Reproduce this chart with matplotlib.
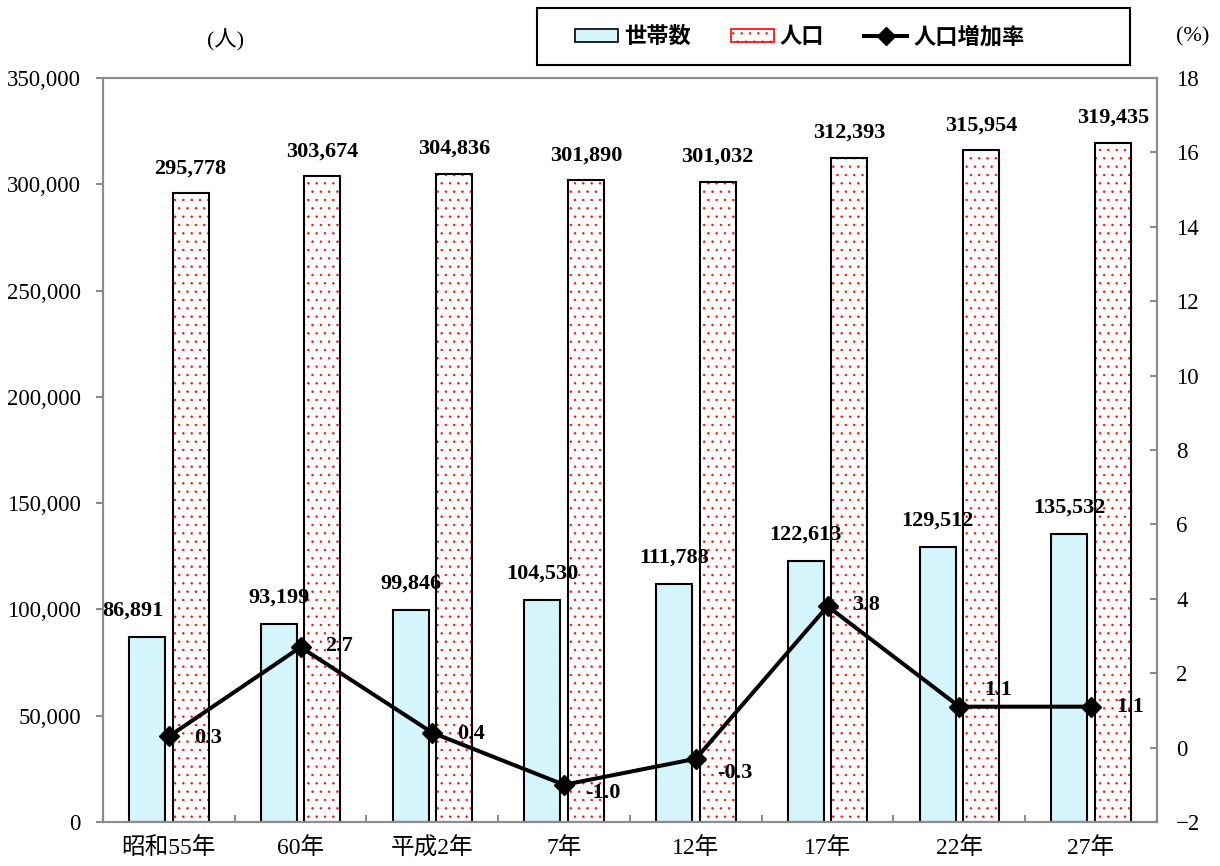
import numpy as np
import matplotlib.pyplot as plt
from matplotlib.patches import Patch, Rectangle
from matplotlib.lines import Line2D

plt.rcParams['font.family'] = ['Liberation Serif', 'Noto Sans CJK JP', 'DejaVu Sans']
plt.rcParams['hatch.linewidth'] = 0.45

years = ["昭和55年", "60年", "平成2年", "7年", "12年", "17年", "22年", "27年"]
households = [86891, 93199, 99846, 104530, 111788, 122613, 129512, 135532]
population = [295778, 303674, 304836, 301890, 301032, 312393, 315954, 319435]
growth = [0.3, 2.7, 0.4, -1.0, -0.3, 3.8, 1.1, 1.1]

gray = "#8c8c8c"
cyan = "#d4f5fb"

fig = plt.figure(figsize=(12.2, 8.66), dpi=100)
ax = fig.add_axes([0.0844, 0.0508, 0.8639, 0.8592])
ax2 = ax.twinx()

x = np.arange(len(years))
w = 0.273
off = 0.165

ax.bar(x - off, households, w, color=cyan, edgecolor="black", linewidth=1.5, zorder=2)
# dotted bars: red dots then black frame
ax.bar(x + off, population, w, color="white", edgecolor="red", hatch="..", linewidth=0, zorder=2)
ax.bar(x + off, population, w, fill=False, edgecolor="black", linewidth=1.5, zorder=3)

for i, (xi, v) in enumerate(zip(x, households)):
    dx = -10 if i == 0 else 0
    ax.annotate(f"{v:,}", (xi - off, v), xytext=(dx, 19), textcoords="offset points",
                ha="center", va="center", fontsize=16, fontweight="bold")
for xi, v in zip(x, population):
    ax.annotate(f"{v:,}", (xi + off, v), xytext=(0, 18), textcoords="offset points",
                ha="center", va="center", fontsize=16, fontweight="bold")

ax2.plot(x, growth, color="black", linewidth=2.9, marker="D", markersize=10, zorder=5)
lab_dy = [-1, 1, -1, -6, -10, 1, 12, 0]
for xi, v, dy in zip(x, growth, lab_dy):
    ax2.annotate(f"{v:.1f}", (xi, v), xytext=(28, dy), textcoords="offset points",
                 ha="center", va="center", fontsize=16, fontweight="bold")

ax.set_xlim(-0.5, len(years) - 0.5)
ax.set_ylim(0, 350000)
ax.set_yticks(np.arange(0, 350001, 50000))
ax.set_yticklabels([f"{t:,}" for t in range(0, 350001, 50000)], fontsize=16.5)
ax.set_xticks(x)
ax.set_xticklabels(years, fontsize=17)
ax.set_xticks(np.arange(-0.5, len(years)), minor=True)
ax.tick_params(axis="x", which="major", length=0, pad=11)
ax.tick_params(axis="x", which="minor", direction="in", length=5, color=gray, width=1.5)
ax.tick_params(axis="y", direction="out", length=5, color=gray, width=1.5, pad=11)

ax2.set_ylim(-2, 18)
ax2.set_yticks(np.arange(-2, 19, 2))
ax2.set_yticklabels([str(t).replace("-", "\u2212") for t in range(-2, 19, 2)], fontsize=16.5)
ax2.tick_params(axis="y", direction="in", length=5, color=gray, width=1.5, pad=14)

for a in (ax, ax2):
    for s in a.spines.values():
        s.set_color(gray)
        s.set_linewidth(1.5)

fig.text(0.185, 0.953, "(人)", fontsize=16, ha="center", va="center")
fig.text(0.978, 0.958, "(%)", fontsize=16, ha="center", va="center")

# legend frame
fig.patches.append(Rectangle((0.4402, 0.9249), 0.486, 0.0658, transform=fig.transFigure,
                             fill=False, edgecolor="black", linewidth=1.5))
handles = [
    Patch(facecolor=cyan, edgecolor="black", linewidth=1.2),
    Patch(facecolor="white", edgecolor="red", hatch="..", linewidth=1.2),
    Line2D([0], [0], color="black", linewidth=2.9, marker="D", markersize=9),
]
fig.legend(handles, ["世帯数", "人口", "人口増加率"], loc="center left",
           bbox_to_anchor=(0.4623, 0.957), ncol=3, frameon=False,
           prop={"size": 16, "weight": "bold"}, borderpad=0,
           handlelength=1.95, handleheight=0.55, columnspacing=1.8, handletextpad=0.25)

fig.savefig("out.png", dpi=100)
